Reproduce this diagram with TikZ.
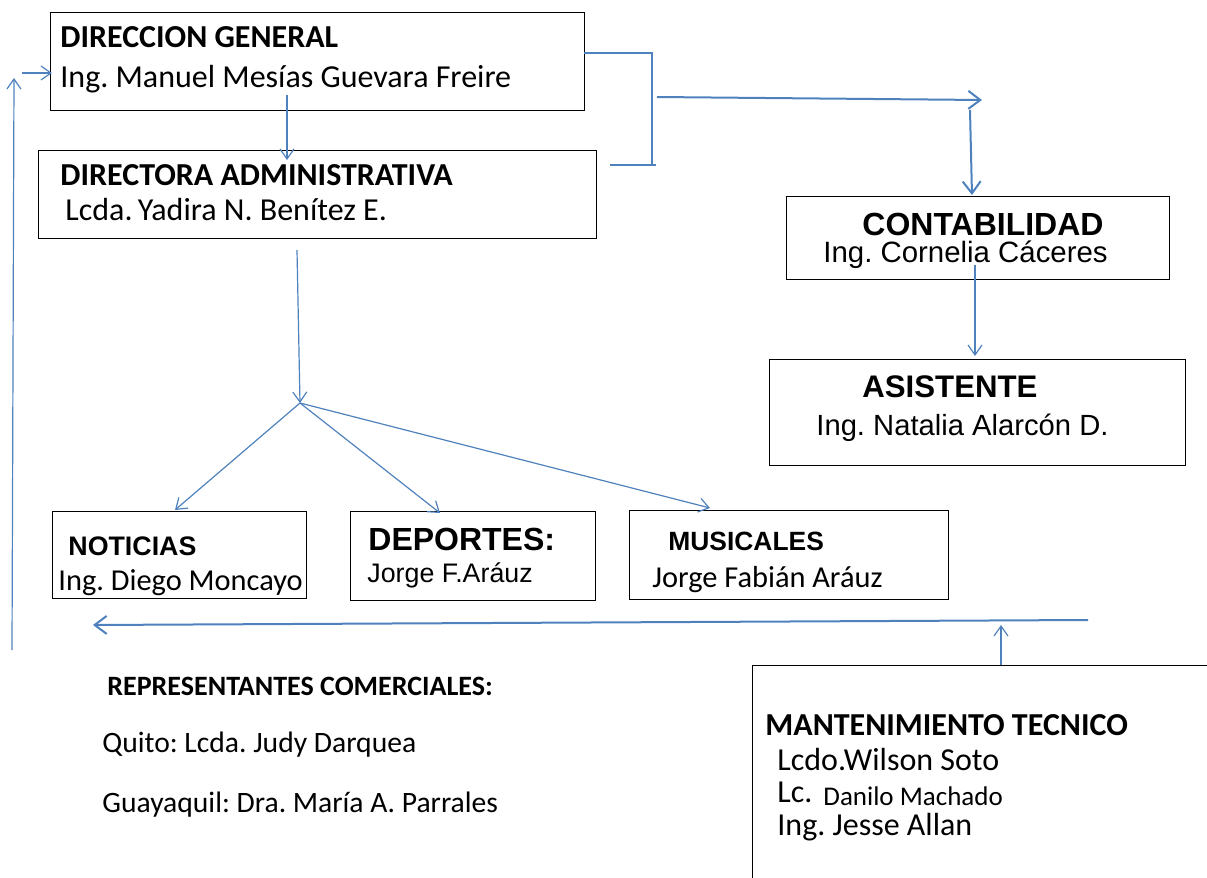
\documentclass[tikz,border=0pt]{standalone}
\usepackage{fontspec}
\setmainfont{Carlito}
\newfontfamily\arialf{Liberation Sans}
\usetikzlibrary{arrows.meta,positioning}
\definecolor{lineblue}{RGB}{79,129,189}
\frenchspacing

\tikzset{
  box/.style={draw=black, line width=0.7pt, anchor=north west, inner sep=0pt},
  txt/.style={anchor=base west, inner sep=0pt},
  link/.style={draw=lineblue, line width=1pt, -{Straight Barb[length=6pt,width=9pt]}},
  thinlink/.style={draw=lineblue, line width=0.6pt, -{Straight Barb[length=5pt,width=7pt]}},
  brace/.style={draw=lineblue, line width=1.2pt},
}
\newcommand{\fsz}[1]{\fontsize{#1}{#1}\selectfont}

\begin{document}
\begin{tikzpicture}[x=0.5pt, y=-0.5pt]
\useasboundingbox (0,0) rectangle (1207,878);

% Boxes
\node[box, minimum width=267pt, minimum height=49pt] (dg) at (50,12) {};
\node[box, minimum width=279pt, minimum height=44pt] (da) at (38,150) {};
\node[box, minimum width=191.5pt, minimum height=41.5pt] (cont) at (786,196) {};
\node[box, minimum width=208pt, minimum height=53pt] (asis) at (769,359) {};
\node[box, minimum width=127pt, minimum height=43.5pt] (noti) at (52,511) {};
\node[box, minimum width=122.5pt, minimum height=44.5pt] (depo) at (350,511) {};
\node[box, minimum width=159.5pt, minimum height=44.5pt] (musi) at (629,510) {};
\node[box, minimum width=250pt, minimum height=150pt] (mant) at (752,665) {};

% Texts
\node[txt, font=\bfseries\fsz{16}] (dgT) at (60,47) {DIRECCION GENERAL};
\node[txt, font=\fsz{16}] (dgN) at (60,87) {Ing. Manuel Mesías Guevara Freire};
\node[txt, font=\bfseries\fsz{16}] (daT) at (60,185) {DIRECTORA ADMINISTRATIVA};
\node[txt, font=\fsz{16}] (daN) at (65,220) {Lcda.\,Yadira N. Benítez E.};
\node[txt, font=\arialf\bfseries\fsz{16}] (contT) at (862,235) {CONTABILIDAD};
\node[txt, font=\arialf\fsz{14.7}] (contN) at (823,262) {Ing. Cornelia Cáceres};
\node[txt, font=\arialf\bfseries\fsz{15.6}] (asisT) at (862,397) {ASISTENTE};
\node[txt, font=\arialf\fsz{14.6}] (asisN) at (816,435) {Ing. Natalia Alarcón D.};
\node[txt, font=\arialf\bfseries\fsz{13.4}] (notiT) at (68,555) {NOTICIAS};
\node[txt, font=\fsz{15.2}] (notiN) at (58,590) {Ing. Diego Moncayo};
\node[txt, font=\arialf\bfseries\fsz{16}] (depoT) at (368,550) {DEPORTES:};
\node[txt, font=\arialf\fsz{13.4}] (depoN) at (367,582) {Jorge F.Aráuz};
\node[txt, font=\arialf\bfseries\fsz{13.2}] (musiT) at (668,550) {MUSICALES};
\node[txt, font=\fsz{15.2}] (musiN) at (652,587) {Jorge Fabián Aráuz};
\node[txt, font=\bfseries\fsz{16}] (mantT) at (765,735) {MANTENIMIENTO TECNICO};
\node[txt, font=\fsz{16}] (mantA) at (777,770) {Lcdo.Wilson Soto};
\node[txt, font=\fsz{16}] (mantB) at (777,802) {Lc.};
\node[txt, font=\fsz{13.5}] (mantC) at (823,805) {Danilo Machado};
\node[txt, font=\fsz{16}] (mantD) at (777,835) {Ing. Jesse Allan};
\node[txt, font=\bfseries\fsz{14}] (repT) at (107,695) {REPRESENTANTES COMERCIALES:};
\node[txt, font=\fsz{14.8}] (repA) at (102,752) {Quito: Lcda. Judy Darquea};
\node[txt, font=\fsz{14.8}] (repB) at (102,812) {Guayaquil: Dra. María A. Parrales};

% Free ends of the connectors
\coordinate (dgout) at (287,95);
\coordinate (dain) at (287,160);
\coordinate (brA) at (584,53);
\coordinate (brB) at (652,53);
\coordinate (brC) at (652,165);
\coordinate (brD) at (610,165);
\coordinate (brE) at (656,165);
\coordinate (rayS) at (657,97);
\coordinate (rayE) at (982,100);
\coordinate (downS) at (970,110);
\coordinate (contin) at (972,195);
\coordinate (contout) at (975,265);
\coordinate (asisin) at (975,356);
\coordinate (daout) at (297,250);
\coordinate (hub) at (300,403);
\coordinate (notiin) at (175,510);
\coordinate (depoin) at (440,513);
\coordinate (musiin) at (710,508);
\coordinate (backS) at (1088,620);
\coordinate (backE) at (93,625);
\coordinate (mantout) at (1001,665);
\coordinate (mantup) at (1001,625);
\coordinate (leftS) at (12,650);
\coordinate (leftE) at (14,78);
\coordinate (sideS) at (22,73);
\coordinate (dgin) at (52,73);

% Connectors
\draw[thinlink] (dgout) -- (dain);
\draw[brace] (brA) -- (brB) -- (brC);
\draw[brace] (brD) -- (brE);
\draw[link] (rayS) -- (rayE);
\draw[link] (downS) -- (contin);
\draw[thinlink] (contout) -- (asisin);
\draw[thinlink] (daout) -- (hub);
\draw[thinlink] (hub) -- (notiin);
\draw[thinlink] (hub) -- (depoin);
\draw[thinlink] (hub) -- (musiin);
\draw[link] (backS) -- (backE);
\draw[thinlink] (mantout) -- (mantup);
\draw[thinlink] (leftS) -- (leftE);
\draw[thinlink] (sideS) -- (dgin);
\end{tikzpicture}
\end{document}
